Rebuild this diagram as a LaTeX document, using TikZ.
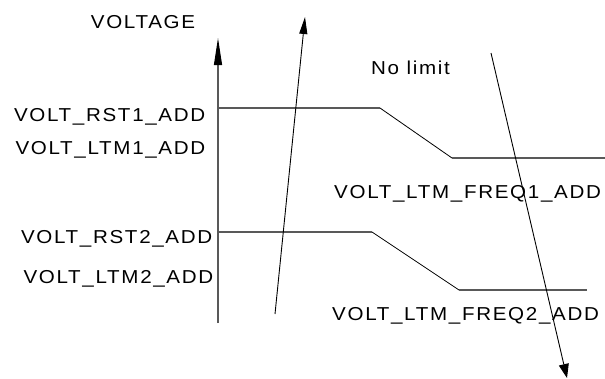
\documentclass[tikz,border=0pt]{standalone}
\usepackage{fontspec}
\setmainfont[FakeStretch=1.1,LetterSpace=9]{Liberation Sans}
\usetikzlibrary{arrows.meta}
\begin{document}
\begin{tikzpicture}[x=1pt,y=-1pt,
  lbl/.style={inner sep=0pt,font=\fontsize{18.7}{22}\selectfont,text=black},
  gline/.style={draw=black!65,line width=1.1pt},
  sline/.style={draw=black,line width=0.8pt},
]
\useasboundingbox (0,0) rectangle (605,378);
% axis
\coordinate (ab) at (218,323);
\coordinate (at) at (218,38);
\draw[gline,-{Triangle[length=27pt,width=8pt,color=black]}] (ab) -- (at);
% curves
\coordinate (a1) at (218,108);
\coordinate (a2) at (380,108);
\coordinate (a3) at (452,158);
\coordinate (a4) at (605,158);
\draw[gline] (a1) -- (a2);
\draw[sline] (a2) -- (a3);
\draw[gline] (a3) -- (a4);
\coordinate (b1) at (218,232);
\coordinate (b2) at (372,232);
\coordinate (b3) at (459,290);
\coordinate (b4) at (587,290);
\draw[gline] (b1) -- (b2);
\draw[sline] (b2) -- (b3);
\draw[gline] (b3) -- (b4);
% arrows
\coordinate (u1) at (275,314);
\coordinate (u2) at (305,17);
\draw[draw=black,line width=0.9pt,-{Triangle[length=17pt,width=8pt]}] (u1) -- (u2);
\coordinate (d1) at (491,53);
\coordinate (d2) at (567,378);
\draw[draw=black,line width=0.9pt,-{Triangle[length=14pt,width=10pt]}] (d1) -- (d2);
% labels
\node[lbl,anchor=base] (tv) at (143,28) {VOLTAGE};
\node[lbl,anchor=base east] (tr1) at (205.5,121) {VOLT\_RST1\_ADD};
\node[lbl,anchor=base east] (tl1) at (205.5,154) {VOLT\_LTM1\_ADD};
\node[lbl,anchor=base east] (tr2) at (212.5,243) {VOLT\_RST2\_ADD};
\node[lbl,anchor=base east] (tl2) at (213.5,283) {VOLT\_LTM2\_ADD};
\node[lbl,anchor=base west] (tn) at (371,74) {No limit};
\node[lbl,anchor=base west] (tf1) at (334,198) {VOLT\_LTM\_FREQ1\_ADD};
\node[lbl,anchor=base west] (tf2) at (332,320) {VOLT\_LTM\_FREQ2\_ADD};
\end{tikzpicture}
\end{document}
